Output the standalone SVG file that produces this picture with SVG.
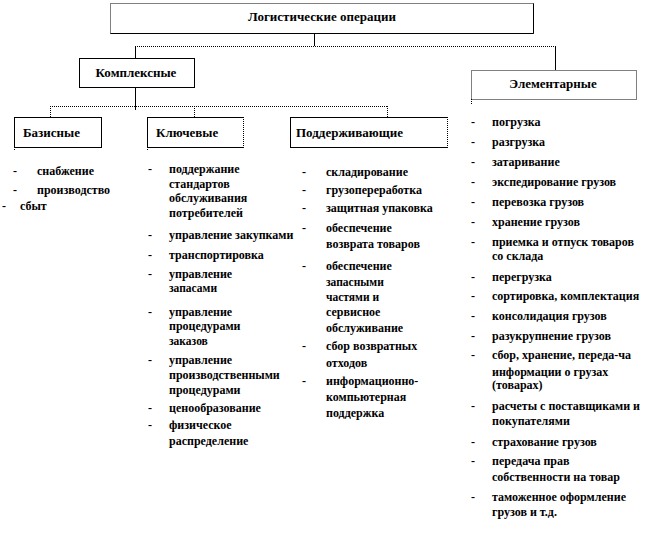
<svg xmlns="http://www.w3.org/2000/svg" width="668" height="540" viewBox="0 0 668 540">
<style>
text{font-family:"Liberation Serif","Times New Roman",serif;font-weight:bold;font-size:12px;fill:#000}
.h{font-size:13px}
.box{fill:#fff;stroke:#000;stroke-width:1}
.dot{fill:none;stroke:#000;stroke-width:1;stroke-dasharray:1 1}
.sol{fill:none;stroke:#000;stroke-width:1}
.c{text-anchor:middle}
.sm{font-size:11.5px}
</style>
<rect width="668" height="540" fill="#fff"/>
<g id="connectors">
<line class="sol" x1="314.5" y1="33" x2="314.5" y2="46"/>
<line class="dot" x1="135" y1="46.5" x2="555" y2="46.5"/>
<line class="sol" x1="135.5" y1="46" x2="135.5" y2="58"/>
<line class="sol" x1="555.5" y1="46" x2="555.5" y2="70"/>
<line class="sol" x1="135.5" y1="87" x2="135.5" y2="110"/>
<line class="dot" x1="50" y1="106.5" x2="387" y2="106.5"/>
<line class="dot" x1="50.5" y1="106" x2="50.5" y2="117"/>
<line class="dot" x1="194.5" y1="106" x2="194.5" y2="120"/>
<line class="dot" x1="387.5" y1="106" x2="387.5" y2="117"/>
<line class="dot" x1="14.5" y1="147" x2="14.5" y2="151"/>
<line class="dot" x1="147.5" y1="147" x2="147.5" y2="151"/>
<line class="dot" x1="471.5" y1="99" x2="471.5" y2="104"/>
</g>
<g id="node-logistic">
<rect class="dot" x="110.5" y="3.5" width="423" height="30" fill="#fff"/>
<polyline class="sol" points="533.5,3.5 533.5,33.5 110.5,33.5"/>
<text class="c h" x="322" y="21">Логистические  операции</text>
</g>
<g id="node-kompl">
<rect class="box" x="79.5" y="58.5" width="115" height="29"/>
<text class="c h" x="136" y="77">Комплексные</text>
</g>
<g id="node-elem">
<rect class="dot" x="471.5" y="70.5" width="165" height="29" fill="#fff"/>
<text class="c h" x="553" y="88">Элементарные</text>
</g>
<g id="node-baz">
<rect class="box" x="14.5" y="117.5" width="87" height="30"/>
<text class="h" x="23" y="137">Базисные</text>
</g>
<g id="node-kluch">
<rect class="box" x="147.5" y="117.5" width="96" height="30"/>
<line x1="243.5" y1="117" x2="243.5" y2="148" stroke="#fff"/>
<line class="dot" x1="243.5" y1="117" x2="243.5" y2="148"/>
<text class="h" x="156" y="137">Ключевые</text>
</g>
<g id="node-podd">
<rect class="box" x="290.5" y="117.5" width="157" height="30"/>
<line x1="447.5" y1="117" x2="447.5" y2="148" stroke="#fff"/>
<line class="dot" x1="447.5" y1="117" x2="447.5" y2="148"/>
<text class="h" x="296" y="137">Поддерживающие</text>
</g>
<g id="list-baz">
<text x="13" y="175">-</text><text x="37" y="175">снабжение</text>
<text x="13" y="194">-</text><text x="37" y="194">производство</text>
<text x="2" y="210">-</text><text x="20" y="210">сбыт</text>
</g>
<g id="list-kluch">
<text x="148" y="173">-</text><text x="169" y="173">поддержание</text>
<text x="169" y="188">стандартов</text>
<text x="169" y="202">обслуживания</text>
<text x="169" y="217">потребителей</text>
<text x="148" y="239">-</text><text x="169" y="239">управление закупками</text>
<text x="148" y="259">-</text><text x="169" y="259">транспортировка</text>
<text x="148" y="278">-</text><text x="169" y="278">управление</text>
<text class="sm" x="169" y="292">запасами</text>
<text x="148" y="316">-</text><text x="169" y="316">управление</text>
<text x="169" y="330">процедурами</text>
<text class="sm" x="169" y="345">заказов</text>
<text x="148" y="364">-</text><text x="169" y="364">управление</text>
<text x="169" y="379">производственными</text>
<text x="169" y="394">процедурами</text>
<text x="148" y="412">-</text><text x="169" y="412">ценообразование</text>
<text x="148" y="429">-</text><text x="169" y="429">физическое</text>
<text x="169" y="445">распределение</text>
</g>
<g id="list-podd">
<text x="302" y="176">-</text><text x="326" y="176">складирование</text>
<text x="302" y="194">-</text><text x="326" y="194">грузопереработка</text>
<text x="302" y="212">-</text><text x="326" y="212">защитная упаковка</text>
<text x="302" y="232">-</text><text x="326" y="232">обеспечение</text>
<text x="326" y="248">возврата товаров</text>
<text x="302" y="270">-</text><text x="326" y="270">обеспечение</text>
<text class="sm" x="326" y="286">запасными</text>
<text class="sm" x="326" y="301">частями и</text>
<text x="326" y="316">сервисное</text>
<text x="326" y="332">обслуживание</text>
<text x="302" y="350">-</text><text x="326" y="350">сбор возвратных</text>
<text x="326" y="367">отходов</text>
<text x="302" y="385">-</text><text x="326" y="385">информационно-</text>
<text x="326" y="401">компьютерная</text>
<text x="326" y="417">поддержка</text>
</g>
<g id="list-elem">
<text x="471" y="126">-</text><text x="492" y="126">погрузка</text>
<text x="471" y="146">-</text><text x="492" y="146">разгрузка</text>
<text x="471" y="166">-</text><text x="492" y="166">затаривание</text>
<text x="471" y="186">-</text><text x="492" y="186">экспедирование грузов</text>
<text x="471" y="206">-</text><text x="492" y="206">перевозка грузов</text>
<text x="471" y="226">-</text><text x="492" y="226">хранение грузов</text>
<text x="471" y="246">-</text><text x="492" y="246">приемка и отпуск товаров</text>
<text x="492" y="260">со склада</text>
<text x="471" y="281">-</text><text x="492" y="281">перегрузка</text>
<text x="471" y="300">-</text><text x="492" y="300">сортировка, комплектация</text>
<text x="471" y="320">-</text><text x="492" y="320">консолидация грузов</text>
<text x="471" y="340">-</text><text x="492" y="340">разукрупнение грузов</text>
<text x="471" y="359">-</text><text x="492" y="359">сбор, хранение, переда-ча</text>
<text x="492" y="376">информации о грузах</text>
<text x="492" y="389">(товарах)</text>
<text x="471" y="410">-</text><text x="492" y="410">расчеты с поставщиками и</text>
<text x="492" y="425">покупателями</text>
<text x="471" y="446">-</text><text x="492" y="446">страхование грузов</text>
<text x="471" y="465">-</text><text x="492" y="465">передача прав</text>
<text x="492" y="481">собственности на товар</text>
<text x="471" y="501">-</text><text x="492" y="501">таможенное оформление</text>
<text x="492" y="516">грузов и т.д.</text>
</g>
</svg>
